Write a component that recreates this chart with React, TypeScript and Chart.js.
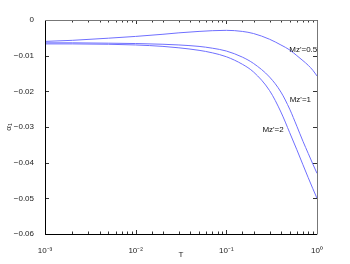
import React, { useEffect, useRef } from 'react';
import { Chart, registerables } from 'chart.js';

Chart.register(...registerables);

// ---- data ----
const T = [0.001, 0.002, 0.005, 0.01, 0.02, 0.03, 0.05, 0.07, 0.1, 0.15, 0.2, 0.3, 0.4, 0.5, 0.6, 0.7, 0.8, 0.9, 1.0];
const mz05 = [-0.0060, -0.0057, -0.0051, -0.0046, -0.0040, -0.0036, -0.0032, -0.0030, -0.0029, -0.0032, -0.0038, -0.0054, -0.0070, -0.0084, -0.0100, -0.0114, -0.0127, -0.0141, -0.0157];
const mz1 = [-0.0064, -0.0064, -0.0065, -0.0066, -0.0068, -0.0070, -0.0074, -0.0079, -0.0087, -0.0104, -0.0122, -0.0160, -0.0202, -0.0250, -0.0298, -0.0340, -0.0374, -0.0404, -0.0430];
const mz2 = [-0.0067, -0.0067, -0.0068, -0.0070, -0.0074, -0.0078, -0.0085, -0.0092, -0.0103, -0.0124, -0.0146, -0.0198, -0.0258, -0.0316, -0.0364, -0.0406, -0.0442, -0.0473, -0.0500];

const yTickValues = [0, -0.01, -0.02, -0.03, -0.04, -0.05, -0.06];
const xTickLabels: Record<string, string> = { '-3': '10⁻³', '-2': '10⁻²', '-1': '10⁻¹', '0': '10⁰' };

const curveLabels = [
  { text: "Mz'=0.5", t: 0.495, v: -0.0084 },
  { text: "Mz'=1", t: 0.5, v: -0.0224 },
  { text: "Mz'=2", t: 0.25, v: -0.0308 },
];

const FONT = '"Liberation Sans", Arial, sans-serif';
const LINE_COLOR = '#6f6fff';

function isMajor(v: number) {
  const l = Math.log10(v);
  return Math.abs(l - Math.round(l)) < 1e-9;
}

const boxPlugin = {
  id: 'boxPlugin',
  afterDraw(chart: any) {
    const { ctx, chartArea: a, scales } = chart;
    const xs = scales.x;
    const ys = scales.y;
    ctx.save();
    // ticks
    ctx.strokeStyle = '#333';
    ctx.lineWidth = 1;
    ctx.beginPath();
    xs.ticks.forEach((tk: any) => {
      const px = Math.round(xs.getPixelForValue(tk.value)) + 0.5;
      const len = isMajor(tk.value) ? 4 : 2.5;
      ctx.moveTo(px, a.bottom);
      ctx.lineTo(px, a.bottom - len);
      ctx.moveTo(px, a.top);
      ctx.lineTo(px, a.top + len);
    });
    yTickValues.forEach((v) => {
      const py = Math.round(ys.getPixelForValue(v)) + 0.5;
      ctx.moveTo(a.left, py);
      ctx.lineTo(a.left + 4, py);
      ctx.moveTo(a.right, py);
      ctx.lineTo(a.right - 4, py);
    });
    ctx.stroke();
    // box
    ctx.strokeStyle = '#000';
    ctx.beginPath();
    ctx.moveTo(Math.round(a.left) + 0.5, Math.round(a.top));
    ctx.lineTo(Math.round(a.left) + 0.5, Math.round(a.bottom) + 0.5);
    ctx.lineTo(Math.round(a.right), Math.round(a.bottom) + 0.5);
    ctx.stroke();
    ctx.strokeStyle = '#777';
    ctx.beginPath();
    ctx.moveTo(Math.round(a.left), Math.round(a.top) + 0.5);
    ctx.lineTo(Math.round(a.right) + 0.5, Math.round(a.top) + 0.5);
    ctx.lineTo(Math.round(a.right) + 0.5, Math.round(a.bottom) + 0.5);
    ctx.stroke();
    // curve labels
    ctx.fillStyle = '#111';
    ctx.font = `8px ${FONT}`;
    ctx.textAlign = 'left';
    ctx.textBaseline = 'middle';
    curveLabels.forEach((l) => {
      ctx.fillText(l.text, xs.getPixelForValue(l.t), ys.getPixelForValue(l.v));
    });
    ctx.restore();
  },
};

export default function App() {
  const ref = useRef<HTMLCanvasElement>(null);
  useEffect(() => {
    if (!ref.current) return;
    const mk = (arr: number[]) => T.map((t, i) => ({ x: t, y: arr[i] }));
    const ds = (label: string, arr: number[]) => ({
      label,
      data: mk(arr),
      borderColor: LINE_COLOR,
      borderWidth: 1,
      pointRadius: 0,
      fill: false,
      cubicInterpolationMode: 'monotone' as const,
    });
    const chart = new Chart(ref.current, {
      type: 'line',
      data: { datasets: [ds("Mz'=0.5", mz05), ds("Mz'=1", mz1), ds("Mz'=2", mz2)] },
      options: {
        animation: false,
        responsive: false,
        layout: { padding: { left: 0, top: 20, right: 33, bottom: 0 } },
        plugins: { legend: { display: false }, tooltip: { enabled: false } },
        scales: {
          x: {
            type: 'logarithmic',
            min: 0.001,
            max: 1,
            grid: { display: false },
            border: { display: false },
            afterFit: (s: any) => { s.height = 30; },
            ticks: {
              autoSkip: false,
              maxRotation: 0,
              padding: 4,
              color: '#222',
              font: { family: FONT, size: 8 },
              callback: (v: any) => {
                const n = Number(v);
                if (!isMajor(n)) return '';
                return xTickLabels[String(Math.round(Math.log10(n)))] ?? '';
              },
            },
            title: {
              display: true,
              text: 'T',
              color: '#222',
              font: { family: FONT, size: 8 },
              padding: { top: 0, bottom: 4 },
            },
          },
          y: {
            type: 'linear',
            min: -0.06,
            max: 0,
            grid: { display: false },
            border: { display: false },
            afterFit: (s: any) => { s.width = 45; },
            afterBuildTicks: (s: any) => { s.ticks = yTickValues.map((v) => ({ value: v })); },
            ticks: {
              padding: 3,
              color: '#222',
              font: { family: FONT, size: 8 },
              callback: (v: any) => {
                const n = Number(v);
                if (Math.abs(n) < 1e-12) return '0';
                return '−' + Math.abs(n).toFixed(2);
              },
            },
            title: {
              display: true,
              text: 'α₁',
              color: '#222',
              font: { family: FONT, size: 8 },
              padding: { top: 4, bottom: 0 },
            },
          },
        },
      },
      plugins: [boxPlugin],
    });
    return () => chart.destroy();
  }, []);
  return (
    <div style={{ position: 'absolute', left: 0, top: 0, width: 350, height: 264, background: '#fff' }}>
      <canvas ref={ref} width={350} height={264} style={{ display: 'block' }} />
    </div>
  );
}
